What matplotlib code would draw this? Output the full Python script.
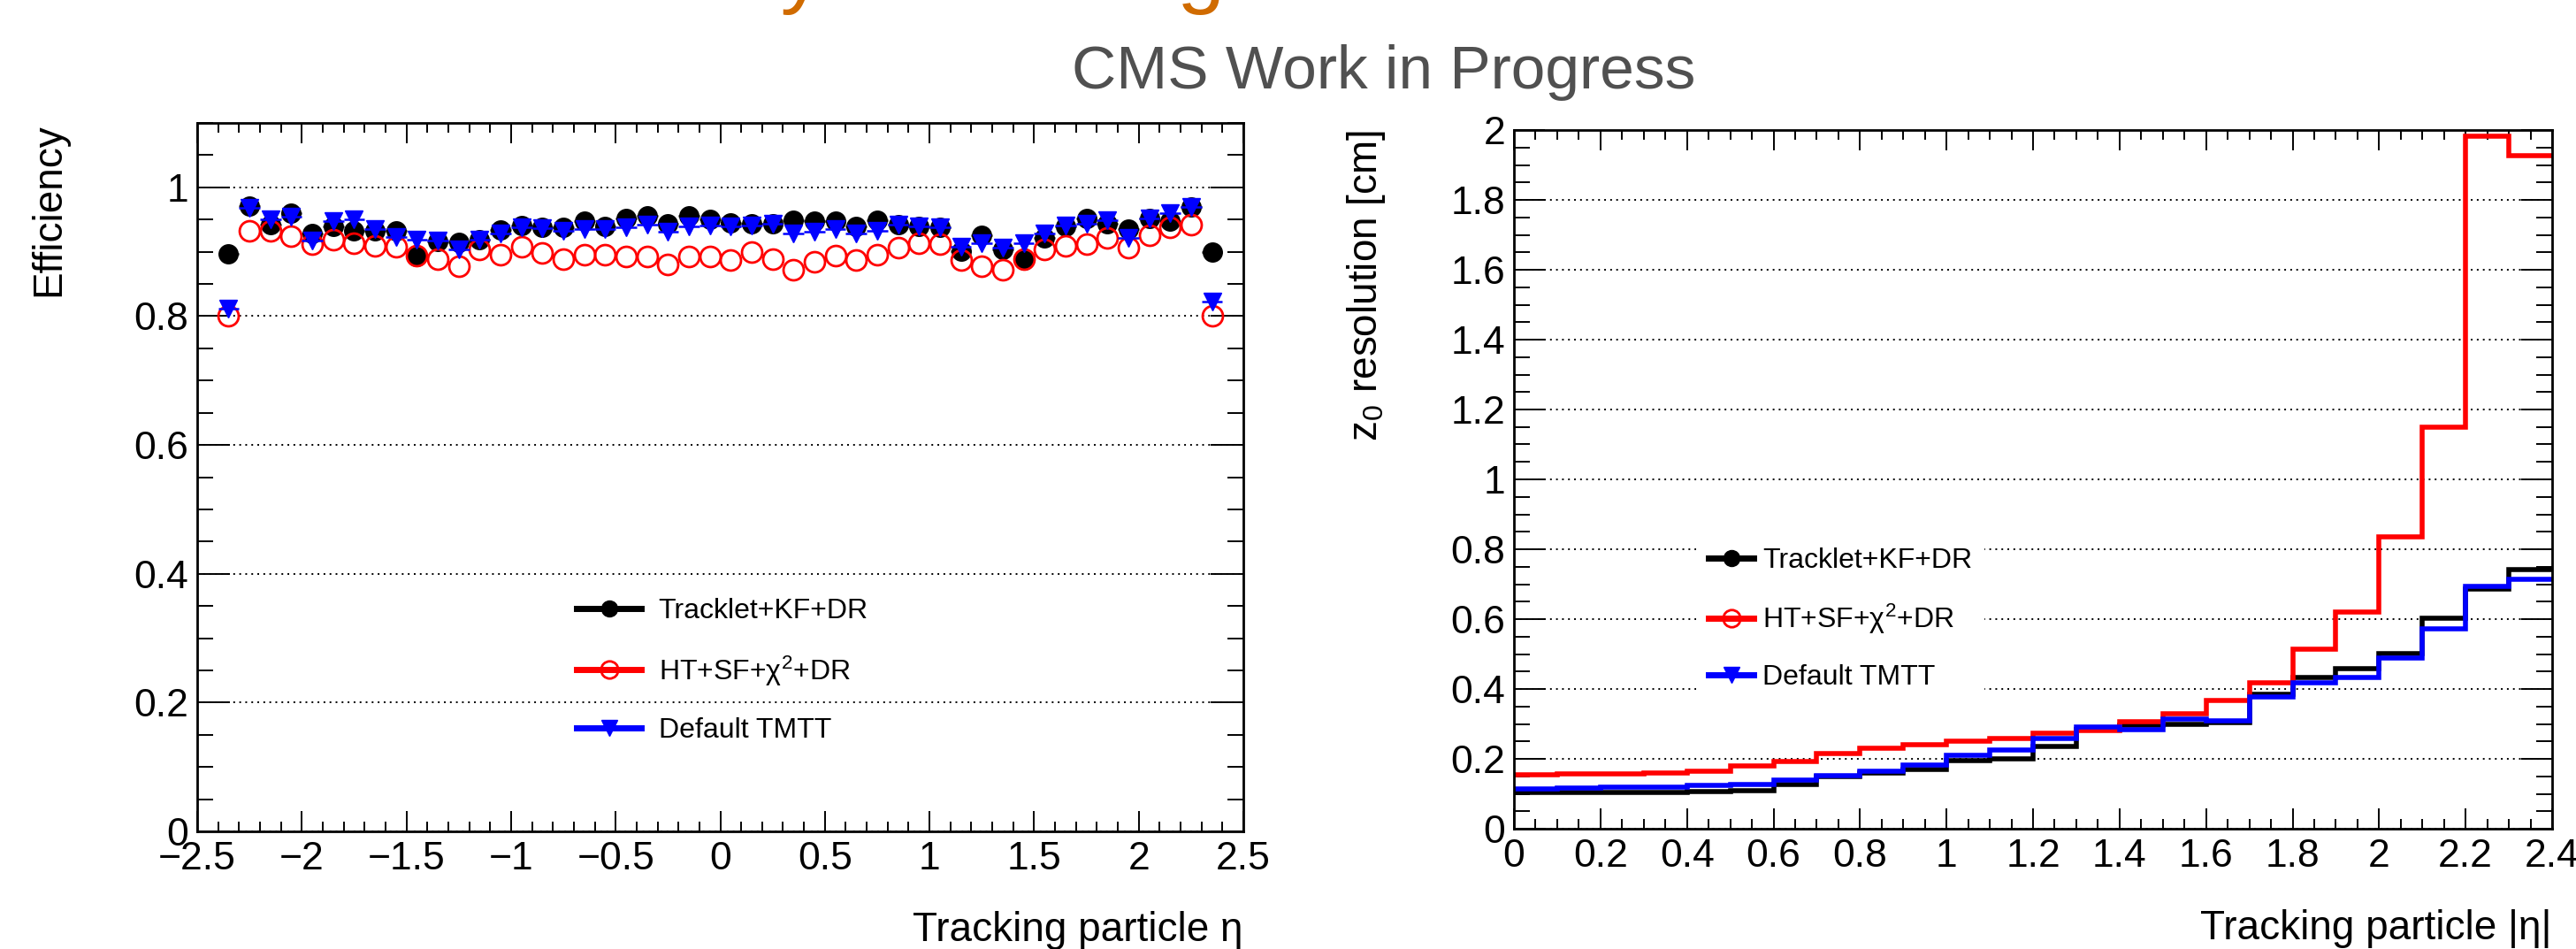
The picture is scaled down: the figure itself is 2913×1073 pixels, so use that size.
import numpy as np
import matplotlib
matplotlib.use("Agg")
import matplotlib.pyplot as plt
from matplotlib.ticker import MultipleLocator, FuncFormatter
from matplotlib.lines import Line2D

plt.rcParams['font.family'] = ['Liberation Sans', 'DejaVu Sans']
plt.rcParams['mathtext.fontset'] = 'custom'
plt.rcParams['mathtext.rm'] = 'Liberation Sans'
plt.rcParams['mathtext.it'] = 'Liberation Sans:italic'
plt.rcParams['mathtext.bf'] = 'Liberation Sans:bold'

# ---------------- data ----------------
labels = ["Tracklet+KF+DR", "HT+SF+\u03c7$^{2}$+DR", "Default TMTT"]

# efficiency vs eta: 48 bins of width 0.1 between -2.4 and 2.4
eta_edges = np.round(np.linspace(-2.4, 2.4, 49), 2)
eff_tracklet = [0.897, 0.971, 0.942, 0.960, 0.928, 0.940, 0.933, 0.933, 0.933, 0.893,
                0.916, 0.915, 0.919, 0.934, 0.941, 0.938, 0.938, 0.947, 0.940, 0.951,
                0.956, 0.944, 0.956, 0.950, 0.945, 0.944, 0.943, 0.949, 0.947, 0.948,
                0.939, 0.949, 0.942, 0.940, 0.938, 0.901, 0.926, 0.903, 0.887, 0.922,
                0.940, 0.951, 0.944, 0.935, 0.951, 0.947, 0.969, 0.900]
eff_ht = [0.800, 0.933, 0.932, 0.924, 0.912, 0.919, 0.913, 0.909, 0.908, 0.894,
          0.889, 0.878, 0.903, 0.895, 0.908, 0.898, 0.889, 0.895, 0.895, 0.892,
          0.892, 0.880, 0.893, 0.893, 0.887, 0.900, 0.889, 0.872, 0.884, 0.894,
          0.887, 0.895, 0.907, 0.913, 0.912, 0.887, 0.878, 0.872, 0.889, 0.904,
          0.909, 0.912, 0.921, 0.907, 0.926, 0.938, 0.942, 0.800]
eff_tmtt = [0.811, 0.968, 0.950, 0.954, 0.917, 0.947, 0.950, 0.935, 0.923, 0.919,
            0.917, 0.903, 0.919, 0.928, 0.938, 0.936, 0.933, 0.935, 0.935, 0.938,
            0.942, 0.931, 0.940, 0.941, 0.940, 0.941, 0.943, 0.928, 0.931, 0.935,
            0.928, 0.933, 0.942, 0.940, 0.938, 0.908, 0.913, 0.906, 0.913, 0.928,
            0.941, 0.944, 0.949, 0.922, 0.951, 0.960, 0.969, 0.822]

# z0 resolution vs |eta|: 24 bins of width 0.1 between 0 and 2.4
abseta_edges = np.round(np.linspace(0.0, 2.4, 25), 2)
res_tracklet = [0.103, 0.105, 0.105, 0.103, 0.107, 0.110, 0.127, 0.149, 0.160, 0.170,
                0.196, 0.200, 0.235, 0.283, 0.295, 0.300, 0.305, 0.386, 0.432, 0.457,
                0.502, 0.603, 0.685, 0.742]
res_ht = [0.155, 0.158, 0.157, 0.160, 0.164, 0.181, 0.193, 0.215, 0.230, 0.240,
          0.250, 0.257, 0.273, 0.282, 0.307, 0.328, 0.366, 0.417, 0.515, 0.619,
          0.835, 1.150, 1.983, 1.926]
res_tmtt = [0.114, 0.116, 0.118, 0.118, 0.123, 0.127, 0.139, 0.151, 0.165, 0.183,
            0.210, 0.225, 0.257, 0.291, 0.284, 0.314, 0.310, 0.377, 0.417, 0.432,
            0.489, 0.571, 0.694, 0.715]

colors = ["#000000", "#ff0000", "#0000ff"]

# ---------------- figure ----------------
W, H, DPI = 2913, 1073, 100
fig = plt.figure(figsize=(W / DPI, H / DPI), dpi=DPI)

def px_axes(x0, x1, ytop, ybot):
    return fig.add_axes([x0 / W, 1 - ybot / H, (x1 - x0) / W, (ybot - ytop) / H])

ax1 = px_axes(223, 1406, 139, 940)
ax2 = px_axes(1712, 2886, 147, 937)

fmt = FuncFormatter(lambda v, p: ("%g" % (0 if abs(v) < 1e-9 else v)).replace('-', '\u2212'))

def style(ax, xmaj, xmin, ymaj, ymin, ylen):
    ax.xaxis.set_major_locator(MultipleLocator(xmaj))
    ax.xaxis.set_minor_locator(MultipleLocator(xmin))
    ax.yaxis.set_major_locator(MultipleLocator(ymaj))
    ax.yaxis.set_minor_locator(MultipleLocator(ymin))
    ax.xaxis.set_major_formatter(fmt)
    ax.yaxis.set_major_formatter(fmt)
    ax.tick_params(which='both', direction='in', top=True, right=True, width=1.4,
                   labelsize=32, colors='black')
    ax.tick_params(axis='x', which='major', length=16.5, pad=8)
    ax.tick_params(axis='x', which='minor', length=8)
    ax.tick_params(axis='y', which='major', length=ylen, pad=7)
    ax.tick_params(axis='y', which='minor', length=13)
    for s in ax.spines.values():
        s.set_linewidth(2.0)
    ax.grid(axis='y', which='major', color='black', linestyle=(0, (1, 2.5)), linewidth=1.4)
    ax.set_axisbelow(True)

# ---- left: efficiency ----
eta_c = 0.5 * (eta_edges[:-1] + eta_edges[1:])
half_w = 0.5 * np.diff(eta_edges)
ax1.errorbar(eta_c, eff_tracklet, xerr=half_w, fmt='o', color=colors[0], ms=15.5,
             elinewidth=1.8, capsize=0, zorder=3)
ax1.plot(eta_c, eff_ht, 'o', mfc='none', mec=colors[1], ms=16.5, mew=2.0, zorder=4)
ax1.errorbar(eta_c, eff_tmtt, xerr=half_w, fmt='v', color=colors[2], ms=15,
             elinewidth=1.8, capsize=0, zorder=5)
ax1.set_xlim(-2.5, 2.5)
ax1.set_ylim(0, 1.1)
style(ax1, 0.5, 0.1, 0.2, 0.05, 26.5)

ax1.set_xlabel("Tracking particle \u03b7", fontsize=33, loc='right')
ax1.xaxis.set_label_coords(1.0, -0.1398)
ax1.xaxis.label.set_va('center')
ax1.set_ylabel("Efficiency", fontsize=33, loc='top')
ax1.yaxis.set_label_coords(-0.142, 1.0)
ax1.yaxis.label.set_va('center')

def handles():
    return [Line2D([], [], color=colors[0], lw=5, marker='o', ms=13, mfc=colors[0], mec=colors[0]),
            Line2D([], [], color=colors[1], lw=5, marker='o', ms=14, mfc='none', mec=colors[1], mew=2),
            Line2D([], [], color=colors[2], lw=5, marker='v', ms=13, mfc=colors[2], mec=colors[2])]

ax1.legend(handles(), labels, loc='center left', bbox_to_anchor=(0.3626, 0.2267),
           frameon=False, fontsize=23, handlelength=2.3, handletextpad=0.6,
           labelspacing=1.05, borderpad=0, borderaxespad=0)

# ---- right: z0 resolution ----
for vals, c in zip([res_tracklet, res_ht, res_tmtt], colors):
    ax2.stairs(vals, abseta_edges, color=c, linewidth=4.0, baseline=None)
ax2.set_xlim(0, 2.4)
ax2.set_ylim(0, 2.0)
style(ax2, 0.2, 0.05, 0.2, 0.05, 25)

ax2.set_xlabel("Tracking particle |\u03b7|", fontsize=33, loc='right')
ax2.xaxis.set_label_coords(1.0, -0.143)
ax2.xaxis.label.set_va('center')
ax2.set_ylabel("z$_{0}$ resolution [cm]", fontsize=33, loc='top')
ax2.yaxis.set_label_coords(-0.142, 1.0)
ax2.yaxis.label.set_va('center')

ax2.legend(handles(), labels, loc='center left', bbox_to_anchor=(0.1755, 0.300),
           frameon=True, facecolor='white', edgecolor='none', framealpha=1,
           fancybox=False, fontsize=23, handlelength=1.6, handletextpad=0.3,
           labelspacing=1.0, borderpad=0.44, borderaxespad=0)

# ---- titles ----
fig.text(1565 / W, 1 - 82 / H, "CMS Work in Progress", ha='center', va='center',
         fontsize=50, color='#505050')
# slide title above the image; only its descenders remain visible
fig.text(517 / W, 1 + 3 / H, "Efficiency - Tracking", ha='left', va='baseline',
         fontsize=70, color='#d06b00')

fig.savefig("out.png", dpi=DPI)
